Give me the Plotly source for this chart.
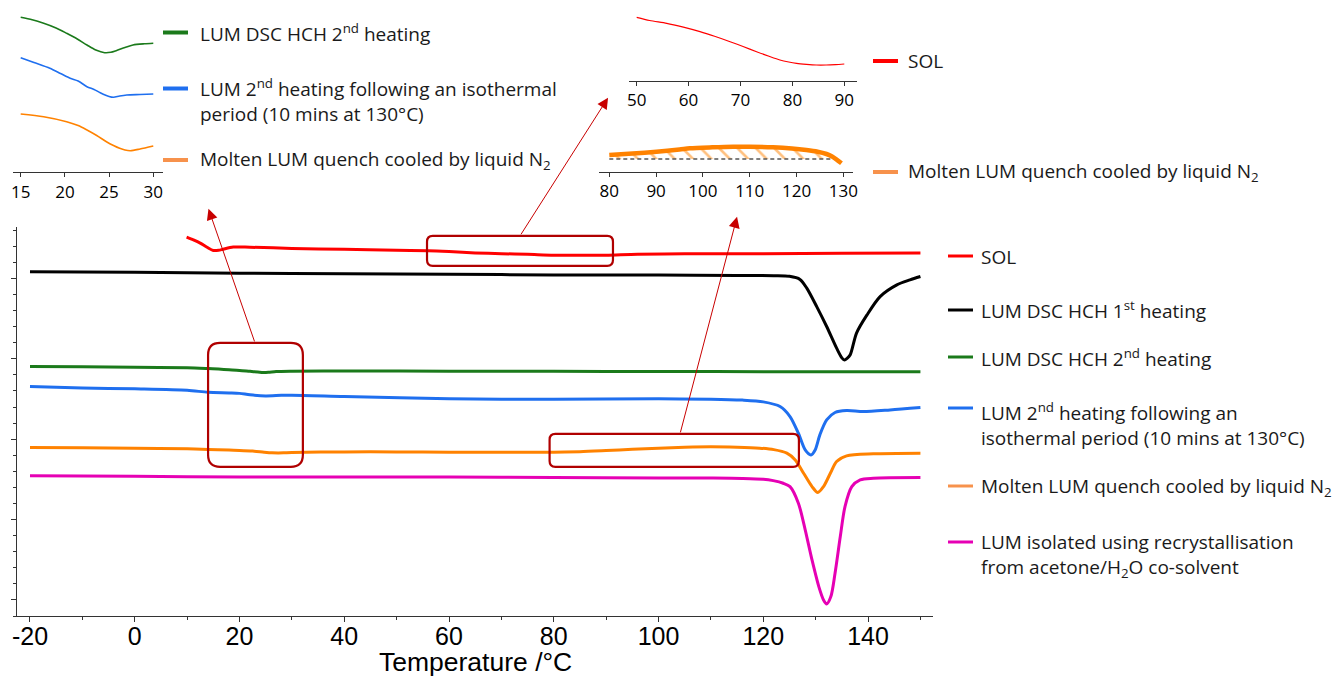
import plotly.graph_objects as go

W, H = 1337, 678

# ---------------- main DSC thermograms (temperature °C, heat flow a.u., offset) ----------------
sol_T = [9.9, 11.2, 12.5, 13.8, 15.0, 16.0, 16.9, 18.8, 22, 30, 40, 50, 56, 60, 65, 70, 75, 80, 85, 90, 96, 105, 120, 135, 150]
sol_hf = [22.57, 22.40, 22.20, 21.94, 21.74, 21.75, 21.82, 21.95, 21.94, 21.87, 21.81, 21.75, 21.72, 21.67, 21.59,
          21.54, 21.50, 21.45, 21.44, 21.45, 21.51, 21.53, 21.54, 21.56, 21.58]

hch1_T = [-20, 0, 20, 40, 60, 80, 100, 115, 122, 125, 127, 128.3, 130.2, 132.1, 134.0, 135.0, 135.5, 136.0,
          136.6, 137.8, 139.8, 142.3, 145.5, 148, 150]
hch1_hf = [20.41, 20.38, 20.33, 20.29, 20.26, 20.22, 20.21, 20.19, 20.17, 20.13, 19.94, 19.40, 18.25, 17.01,
           15.66, 15.06, 14.93, 15.03, 15.25, 16.60, 17.73, 18.87, 19.60, 19.91, 20.12]

hch2_T = [-20, -10, 0, 10, 14, 16, 18, 20, 22, 23.5, 24.5, 25.5, 27, 30, 40, 60, 80, 100, 120, 150]
hch2_hf = [14.52, 14.50, 14.48, 14.44, 14.39, 14.36, 14.32, 14.28, 14.22, 14.18, 14.15, 14.16, 14.21, 14.23,
           14.24, 14.23, 14.22, 14.21, 14.20, 14.19]

iso_T = [-20, -10, 0, 10, 14, 18, 20, 22, 25, 28, 30, 40, 60, 80, 100, 110, 116, 120, 123.2, 125.1, 126.7,
         128.0, 129.1, 129.9, 130.8, 132.1, 133.7, 135.9, 139.1, 144.2, 150]
iso_hf = [13.27, 13.19, 13.13, 13.04, 12.92, 12.88, 12.85, 12.76, 12.69, 12.73, 12.74, 12.66, 12.51, 12.49,
          12.51, 12.49, 12.43, 12.32, 12.03, 11.41, 10.37, 9.33, 9.02, 9.33, 10.27, 11.20, 11.66, 11.78,
          11.72, 11.82, 11.97]

quench_T = [-20, -10, 0, 10, 14, 18, 20, 22.5, 24.7, 26.2, 27.4, 28.5, 30, 40, 50, 60, 70, 80, 85, 90, 95,
            100, 105, 110, 115, 119.3, 122, 124.5, 126.1, 127.7, 129.3, 130.4, 131.5, 132.8, 134.0, 135.9,
            141.0, 150]
quench_hf = [9.48, 9.46, 9.44, 9.40, 9.36, 9.32, 9.30, 9.26, 9.19, 9.15, 9.14, 9.15, 9.17, 9.21, 9.21, 9.19,
             9.18, 9.19, 9.22, 9.29, 9.37, 9.44, 9.50, 9.53, 9.50, 9.44, 9.35, 9.13, 8.71, 7.88, 7.05, 6.68,
             7.05, 7.88, 8.61, 8.96, 9.09, 9.13]

recryst_T = [-20, 0, 20, 40, 60, 80, 100, 110, 116, 120, 121.9, 123.8, 125.1, 126.7, 128.0, 129.3, 130.6,
             131.5, 132.1, 132.9, 133.7, 134.7, 135.6, 136.9, 138.5, 141, 150]
recryst_hf = [7.72, 7.69, 7.65, 7.64, 7.64, 7.62, 7.59, 7.58, 7.56, 7.51, 7.42, 7.26, 7.05, 6.02, 4.36, 2.49,
              0.83, 0.00, -0.25, 0.21, 1.66, 3.94, 5.81, 7.05, 7.47, 7.57, 7.61]

# ---------------- inset 1: glass transition region 15-30 °C ----------------
ins1_green_T = [15, 16.3, 17.6, 19, 20.2, 21.4, 22.5, 23.5, 24.5, 25.2, 25.8, 26.8, 27.7, 29, 30]
ins1_green_hf = [15.50, 15.25, 14.90, 14.43, 13.90, 13.33, 12.73, 12.23, 11.96, 12.00, 12.16, 12.48, 12.73, 12.85, 12.90]
ins1_blue_T = [15, 16.5, 18.3, 19.5, 20.6, 21.5, 22.5, 23.3, 24, 25, 25.5, 26.2, 27, 28.5, 30]
ins1_blue_hf = [11.46, 10.98, 10.40, 9.88, 9.40, 9.13, 8.56, 8.28, 7.96, 7.58, 7.50, 7.63, 7.73, 7.78, 7.83]
ins1_orange_T = [15, 17.6, 20.2, 21.5, 22.5, 23.6, 24.7, 25.5, 26.2, 26.8, 27.4, 28.5, 30]
ins1_orange_hf = [5.83, 5.56, 5.06, 4.68, 4.23, 3.68, 3.06, 2.68, 2.40, 2.23, 2.16, 2.33, 2.63]

# ---------------- inset 2: SOL 50-90 °C ----------------
ins2_T = [50, 52.5, 55.8, 59, 62.2, 65, 68, 70.5, 73.1, 75.5, 77.6, 79.3, 80.8, 82.7, 84.6, 86.5, 88.3, 90]
ins2_hf = [6.34, 6.02, 5.74, 5.35, 4.90, 4.44, 3.90, 3.42, 2.90, 2.44, 2.07, 1.87, 1.74, 1.64, 1.57, 1.57, 1.61, 1.67]

# ---------------- inset 3: quench-cooled 80-130 °C (exotherm) ----------------
ins3_T = [80, 85, 90.1, 95, 97.2, 102, 106.5, 110, 115, 119, 122.1, 124.5, 126.4, 127.6, 128.5, 129.6]
ins3_hf = [1.67, 1.82, 2.00, 2.22, 2.34, 2.44, 2.50, 2.50, 2.44, 2.32, 2.17, 2.00, 1.77, 1.52, 1.24, 0.84]
ins3_base_T = [80, 128.5]
ins3_base_hf = [1.27, 1.27]

# ---------------- labels ----------------
main_ticks = [-20, 0, 20, 40, 60, 80, 100, 120, 140]
main_ticktext = ['-20', '0', '20', '40', '60', '80', '100', '120', '140']
ins1_ticks = [15, 20, 25, 30]
ins2_ticks = [50, 60, 70, 80, 90]
ins3_ticks = [80, 90, 100, 110, 120, 130]

C_SOL, C_H1, C_H2, C_ISO, C_Q, C_R = '#FF0000', '#000000', '#1B7A1B', '#1F6FEF', '#FF8200', '#E600B4'
C_QKEY = '#F7924C'
C_BOX = '#B00000'
TICKFONT = 'Liberation Sans Narrow, Liberation Sans, Arial, sans-serif'
TXTFONT = 'Open Sans, Lato, sans-serif'
LEG_SIZE = 19


def X(p):
    return p / W


def Y(p):
    return 1 - p / H


fig = go.Figure()


def line(x, y, color, width, xa='x', ya='y', **kw):
    fig.add_trace(go.Scatter(x=x, y=y, mode='lines', xaxis=xa, yaxis=ya, showlegend=False,
                             line=dict(color=color, width=width, shape='spline', smoothing=0.8), hoverinfo='skip', **kw))


# main
line(sol_T, sol_hf, C_SOL, 3)
line(hch1_T, hch1_hf, C_H1, 3)
line(hch2_T, hch2_hf, C_H2, 3)
line(iso_T, iso_hf, C_ISO, 3)
line(quench_T, quench_hf, C_Q, 3)
line(recryst_T, recryst_hf, C_R, 3)

# inset 1
line(ins1_green_T, ins1_green_hf, C_H2, 1.6, 'x2', 'y2')
line(ins1_blue_T, ins1_blue_hf, C_ISO, 1.6, 'x2', 'y2')
line(ins1_orange_T, ins1_orange_hf, C_Q, 1.6, 'x2', 'y2')

# inset 2
line(ins2_T, ins2_hf, C_SOL, 1.2, 'x3', 'y3')

# inset 3: baseline, hatched area, curve
fig.add_trace(go.Scatter(x=ins3_base_T, y=ins3_base_hf, mode='lines', xaxis='x4', yaxis='y4', showlegend=False,
                         line=dict(color='#555555', width=1.5, dash='4px,3px'), hoverinfo='skip'))
fill_T = [t for t in ins3_T if t <= ins3_base_T[-1]]
fill_hf = ins3_hf[:len(fill_T)]
fig.add_trace(go.Scatter(x=fill_T, y=fill_hf, mode='lines', xaxis='x4', yaxis='y4', showlegend=False,
                         line=dict(width=0, shape='spline'), fill='tonexty', fillcolor='rgba(0,0,0,0)',
                         fillpattern=dict(shape='\\', fgcolor=C_Q, bgcolor='rgba(0,0,0,0)', size=13, solidity=0.2),
                         hoverinfo='skip'))
line(ins3_T, ins3_hf, C_Q, 4.5, 'x4', 'y4')

axis_common = dict(showline=True, linecolor='#333333', linewidth=1.3, ticks='outside', tickcolor='#333333',
                   showgrid=False, zeroline=False, fixedrange=True, automargin=False)

fig.update_layout(
    width=W, height=H, margin=dict(l=0, r=0, t=0, b=0, autoexpand=False), plot_bgcolor='white',
    paper_bgcolor='white',
    xaxis=dict(domain=[X(17), X(933)], range=[-22.48, 152.4], anchor='y', tickvals=main_ticks,
               ticktext=main_ticktext, ticklen=5, tickwidth=1.2, ticklabelstandoff=-7,
               minor=dict(ticks='outside', ticklen=3, dtick=10, tick0=0, tickcolor='#333333'),
               tickfont=dict(family=TICKFONT, size=25, color='black'), **axis_common),
    yaxis=dict(domain=[Y(616), Y(227)], range=[-1, 23.2], anchor='x', dtick=5, tick0=0, ticklen=5, tickwidth=1.2,
               showticklabels=False, minor=dict(ticks='outside', ticklen=3, dtick=1, tick0=0, tickcolor='#333333'),
               **axis_common),
    xaxis2=dict(domain=[X(13), X(163)], range=[14.13, 31.1], anchor='y2', tickvals=ins1_ticks, ticklen=4,
                tickfont=dict(family=TXTFONT, size=17, color='black'), **axis_common),
    yaxis2=dict(domain=[Y(172.3), Y(8)], range=[0, 16.43], anchor='x2', visible=False, fixedrange=True),
    xaxis3=dict(domain=[X(629), X(856.7)], range=[48.52, 92.39], anchor='y3', tickvals=ins2_ticks, ticklen=4,
                tickfont=dict(family=TXTFONT, size=17, color='black'), **axis_common),
    yaxis3=dict(domain=[Y(80.7), Y(8)], range=[0, 7.27], anchor='x3', visible=False, fixedrange=True),
    xaxis4=dict(domain=[X(599), X(852.7)], range=[77.8, 132.0], anchor='y4', tickvals=ins3_ticks, ticklen=4,
                tickfont=dict(family=TXTFONT, size=17, color='black'), **axis_common),
    yaxis4=dict(domain=[Y(171.7), Y(120)], range=[0, 5.17], anchor='x4', visible=False, fixedrange=True),
)

# x-axis title
fig.add_annotation(x=X(475), y=0, xref='paper', yref='paper', text='Temperature /°C', showarrow=False,
                   xanchor='center', yanchor='bottom', borderpad=0,
                   font=dict(family=TICKFONT, size=26.5, color='black'))


# rounded highlight boxes (data coordinates of main axes)
def rounded_rect(x0, x1, y0, y1, rx, ry):
    return (f'M{x0 + rx},{y1} L{x1 - rx},{y1} Q{x1},{y1} {x1},{y1 - ry} L{x1},{y0 + ry} '
            f'Q{x1},{y0} {x1 - rx},{y0} L{x0 + rx},{y0} Q{x0},{y0} {x0},{y0 + ry} '
            f'L{x0},{y1 - ry} Q{x0},{y1} {x0 + rx},{y1} Z')


boxes = [  # (T0, T1, hf0, hf1, corner radius in T, corner radius in hf)
    (14.0, 32.1, 8.28, 15.99, 2.3, 0.75),
    (55.8, 91.3, 20.78, 22.65, 1.1, 0.36),
    (79.2, 126.8, 8.28, 10.33, 1.1, 0.36),
]
for b in boxes:
    fig.add_shape(type='path', path=rounded_rect(*b), xref='x', yref='y', line=dict(color=C_BOX, width=2.2))

# arrows from boxes to insets (tip, tail in main-axis data coordinates)
arrows = [((14.08, 24.33), (22.96, 15.99)),
          ((90.36, 31.24), (73.56, 22.65)),
          ((114.99, 23.83), (104.1, 10.33))]
for (tx, ty), (sx, sy) in arrows:
    fig.add_annotation(x=tx, y=ty, ax=sx, ay=sy, xref='x', yref='y', axref='x', ayref='y', text='',
                       showarrow=True, arrowhead=2, arrowsize=2.2, arrowwidth=1, arrowcolor='#C80000', standoff=0)


# legend keys + texts
def key(x0, x1, y, color, width=3.5):
    fig.add_shape(type='line', xref='paper', yref='paper', x0=X(x0), x1=X(x1), y0=Y(y), y1=Y(y),
                  line=dict(color=color, width=width))


def txt(x, y, s, size=LEG_SIZE):
    fig.add_annotation(x=X(x), y=Y(y), xref='paper', yref='paper', text=s, showarrow=False, xanchor='left',
                       yanchor='middle', align='left', font=dict(family=TXTFONT, size=size, color='#1a1a1a'))


# right legend
key(948, 973, 256, C_SOL, 3)
txt(979, 257, 'SOL')
key(948, 973, 310, C_H1, 3)
txt(979, 310, 'LUM DSC HCH 1<sup>st</sup> heating')
key(948, 973, 357, C_H2, 3)
txt(979, 358, 'LUM DSC HCH 2<sup>nd</sup> heating')
key(948, 973, 408, C_ISO, 3)
txt(979, 424, 'LUM 2<sup>nd</sup> heating following an<br>isothermal period (10 mins at 130°C)')
key(948, 973, 486, C_QKEY, 3)
txt(979, 487, 'Molten LUM quench cooled by liquid N<sub>2</sub>')
key(948, 973, 542, C_R, 3)
txt(979, 555, 'LUM isolated using recrystallisation<br>from acetone/H<sub>2</sub>O co-solvent')

# left inset legend
key(163, 188, 32.5, C_H2, 4)
txt(198, 33, 'LUM DSC HCH 2<sup>nd</sup> heating')
key(163, 188, 88.5, C_ISO, 4)
txt(198, 100.5, 'LUM 2<sup>nd</sup> heating following an isothermal<br>period (10 mins at 130°C)')
key(163, 188, 160, C_QKEY, 4)
txt(198, 160, 'Molten LUM quench cooled by liquid N<sub>2</sub>')

# top insets legend
key(873, 898, 61, C_SOL, 4)
txt(906, 61, 'SOL')
key(873, 898, 172, C_QKEY, 4)
txt(906, 172, 'Molten LUM quench cooled by liquid N<sub>2</sub>')

fig.write_html('out.html')
